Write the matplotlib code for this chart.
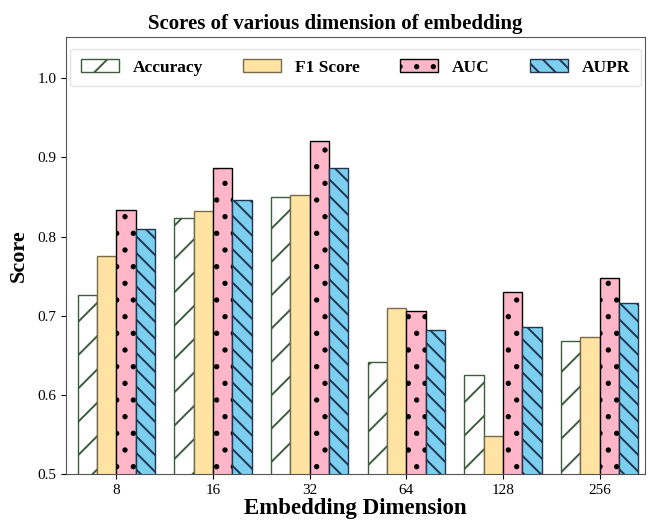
import numpy as np
import matplotlib
matplotlib.use("Agg")
import matplotlib.pyplot as plt

plt.rcParams['font.family'] = ['Liberation Serif', 'DejaVu Serif']
plt.rcParams['hatch.linewidth'] = 1.4

dims = ["8", "16", "32", "64", "128", "256"]
accuracy = [0.726, 0.824, 0.850, 0.641, 0.625, 0.668]
f1_score = [0.775, 0.832, 0.853, 0.710, 0.548, 0.673]
auc = [0.833, 0.886, 0.921, 0.706, 0.730, 0.748]
aupr = [0.809, 0.846, 0.887, 0.682, 0.686, 0.716]

series = [
    ("Accuracy", accuracy, "white", "#3d5c3f", "/"),
    ("F1 Score", f1_score, "#ffe3a3", "#7a6a4a", ""),
    ("AUC", auc, "#ffb6c8", "black", "."),
    ("AUPR", aupr, "#7dcfef", "#1f3550", "\\\\"),
]

fig = plt.figure(figsize=(6.49, 5.21), dpi=100)
ax = fig.add_axes([0.102, 0.09, 0.892, 0.839])

x = np.arange(len(dims))
width = 0.2
for i, (name, vals, fc, ec, hatch) in enumerate(series):
    ax.bar(x + (i - 1.5) * width, vals, width, color=fc, edgecolor=ec,
           hatch=hatch, linewidth=1.0, label=name)

ax.set_ylim(0.5, 1.052)
ax.set_xlim(-0.52, 5.47)
ax.set_xticks(x)
ax.set_xticklabels(dims, fontsize=11)
ax.set_yticks([0.5, 0.6, 0.7, 0.8, 0.9, 1.0])
ax.set_yticklabels(["0.5", "0.6", "0.7", "0.8", "0.9", "1.0"], fontsize=11)
for s in ax.spines.values():
    s.set_color("#555555")

ax.set_title("Scores of various dimension of embedding", fontsize=15,
             fontweight="bold", pad=6, x=0.465)
ax.set_xlabel("Embedding Dimension", fontsize=16.5, fontweight="bold", labelpad=1)
ax.set_ylabel("Score", fontsize=16, fontweight="bold", labelpad=6)

ax.legend(loc="upper center", ncol=4, bbox_to_anchor=(0.5, 0.985),
          prop={"weight": "bold", "size": 12.5}, handlelength=2.2,
          handleheight=0.8, columnspacing=2.3, handletextpad=0.8,
          frameon=True, fancybox=True, edgecolor="#dddddd",
          borderpad=0.6, borderaxespad=0.3)

fig.savefig("out.png", dpi=100)
